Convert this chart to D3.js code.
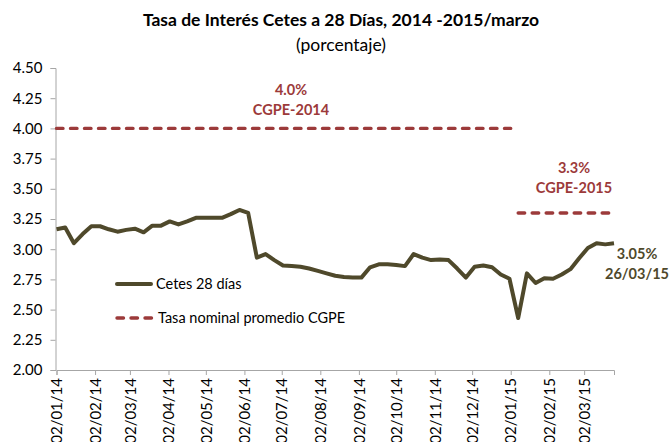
<!DOCTYPE html>
<html>
<head>
<meta charset="utf-8">
<script src="https://cdn.jsdelivr.net/npm/d3@7"></script>
<style>
  html, body { margin: 0; padding: 0; background: #fff; }
  svg { display: block; font-family: Lato, "Open Sans", sans-serif; }
</style>
</head>
<body>
<div id="chart"></div>
<script>
// Cetes 28 días, subasta semanal (jueves) del 02/01/14 al 26/03/15
const firstDate = new Date(2014, 0, 2)
const lastDate = new Date(2015, 2, 26)
const weeks = d3.timeDay.range(firstDate, d3.timeDay.offset(lastDate, 1), 7)

const cetes = [
  3.165, 3.18, 3.05, 3.125, 3.19, 3.19, 3.165, 3.145, 3.16, 3.17,
  3.14, 3.195, 3.195, 3.23, 3.205, 3.23, 3.26, 3.26, 3.26, 3.26,
  3.29, 3.325, 3.30, 2.93, 2.96, 2.91, 2.865, 2.86, 2.855, 2.84,
  2.82, 2.80, 2.78, 2.77, 2.765, 2.765, 2.85, 2.875, 2.875, 2.87,
  2.86, 2.96, 2.93, 2.91, 2.915, 2.91, 2.84, 2.765, 2.855, 2.865,
  2.85, 2.79, 2.755, 2.43, 2.80, 2.72, 2.76, 2.755, 2.79, 2.835,
  2.925, 3.01, 3.05, 3.04, 3.05,
]

// Tasa nominal promedio CGPE (tramos)
const cgpe = [
  { label: "CGPE-2014", pct: "4.0%", value: 4.0, from: new Date(2014, 0, 2), to: new Date(2015, 0, 2) },
  { label: "CGPE-2015", pct: "3.3%", value: 3.3, from: new Date(2015, 0, 8), to: new Date(2015, 2, 23) },
]

const yTicks = [2.0, 2.25, 2.5, 2.75, 3.0, 3.25, 3.5, 3.75, 4.0, 4.25, 4.5]
const xTicks = d3.timeMonth.range(new Date(2014, 0, 1), new Date(2015, 3, 1)).map((d) => d3.timeDay.offset(d, 1))

const W = 671, H = 442
const lineColor = "#4f492b"
const redColor = "#9c3a3a"
const axisColor = "#a6a6a6"

const x = d3.scaleTime().domain([firstDate, lastDate]).range([56.5, 614])
const y = d3.scaleLinear().domain([2, 4.5]).range([370, 68])

const svg = d3.select("#chart").append("svg")
  .attr("width", W).attr("height", H)
  .attr("viewBox", `0 0 ${W} ${H}`)

// Titulos
svg.append("text")
  .attr("x", 341).attr("y", 26)
  .attr("text-anchor", "middle")
  .attr("font-size", 17.5).attr("font-weight", 700).attr("fill", "#000")
  .text("Tasa de Interés Cetes a 28 Días, 2014 -2015/marzo")
svg.append("text")
  .attr("x", 341).attr("y", 51)
  .attr("text-anchor", "middle")
  .attr("font-size", 17.5).attr("fill", "#000")
  .text("(porcentaje)")

// Eje Y
const yAxis = svg.append("g")
  .attr("transform", `translate(${x.range()[0] - 1},0)`)
  .call(d3.axisLeft(y).tickValues(yTicks).tickFormat(d3.format(".2f")).tickSizeOuter(0).tickSize(5).tickPadding(8))
yAxis.select(".domain").attr("stroke", axisColor)
yAxis.selectAll(".tick line").attr("stroke", axisColor)
yAxis.selectAll(".tick text").attr("font-size", 15).attr("fill", "#000")
  .attr("font-family", "Lato, sans-serif")

// Eje X
const xAxis = svg.append("g")
  .attr("transform", `translate(0,${y(2)})`)
  .call(d3.axisBottom(x).tickValues(xTicks).tickFormat(d3.timeFormat("%d/%m/%y")).tickSizeOuter(0).tickSize(5))
xAxis.select(".domain").attr("stroke", axisColor)
xAxis.selectAll(".tick line").attr("stroke", axisColor)
xAxis.selectAll(".tick text")
  .attr("font-size", 15).attr("fill", "#000")
  .attr("font-family", "Lato, sans-serif")
  .attr("text-anchor", "end")
  .attr("dy", "0.35em")
  .attr("transform", "translate(0,3) rotate(-90)")
  .attr("x", -5).attr("y", 0)

// Tramos CGPE
svg.append("g").selectAll("line")
  .data(cgpe)
  .join("line")
  .attr("x1", (d) => x(d.from)).attr("x2", (d) => x(d.to))
  .attr("y1", (d) => y(d.value)).attr("y2", (d) => y(d.value))
  .attr("stroke", redColor).attr("stroke-width", 3.4)
  .attr("stroke-linecap", "round")
  .attr("stroke-dasharray", "6.5,7.5")

const labelPos = [{ cx: 291, dy: -33 }, { cx: 574, dy: -40 }]
cgpe.forEach((d, i) => {
  const g = svg.append("g").attr("fill", redColor).attr("font-weight", 700)
    .attr("font-size", 14.5).attr("text-anchor", "middle")
  g.append("text").attr("x", labelPos[i].cx).attr("y", y(d.value) + labelPos[i].dy).text(d.pct)
  g.append("text").attr("x", labelPos[i].cx).attr("y", y(d.value) + labelPos[i].dy + 20).text(d.label)
})

// Serie Cetes
const line = d3.line()
  .x((d, i) => x(weeks[i]))
  .y((d) => y(d))
svg.append("path")
  .datum(cetes)
  .attr("fill", "none")
  .attr("stroke", lineColor)
  .attr("stroke-width", 4)
  .attr("stroke-linejoin", "round")
  .attr("d", line)

// Ultimo dato
const last = cetes[cetes.length - 1]
const endG = svg.append("g").attr("fill", lineColor).attr("font-weight", 700)
  .attr("font-size", 14.5).attr("text-anchor", "middle")
endG.append("text").attr("x", 637).attr("y", 259).text(`${d3.format(".2f")(last)}%`)
endG.append("text").attr("x", 637).attr("y", 279).text(d3.timeFormat("%d/%m/%y")(lastDate))

// Leyenda
const legend = svg.append("g").attr("font-size", 14.5).attr("fill", "#000")
legend.append("line")
  .attr("x1", 117).attr("x2", 151).attr("y1", 284).attr("y2", 284)
  .attr("stroke", lineColor).attr("stroke-width", 4).attr("stroke-linecap", "round")
legend.append("text").attr("x", 156).attr("y", 284).attr("dy", "0.35em").text("Cetes 28 días")
legend.append("line")
  .attr("x1", 117).attr("x2", 153).attr("y1", 318).attr("y2", 318)
  .attr("stroke", redColor).attr("stroke-width", 3.4).attr("stroke-linecap", "round")
  .attr("stroke-dasharray", "6.5,7.5")
legend.append("text").attr("x", 158).attr("y", 318).attr("dy", "0.35em").text("Tasa nominal promedio CGPE")
</script>
</body>
</html>
